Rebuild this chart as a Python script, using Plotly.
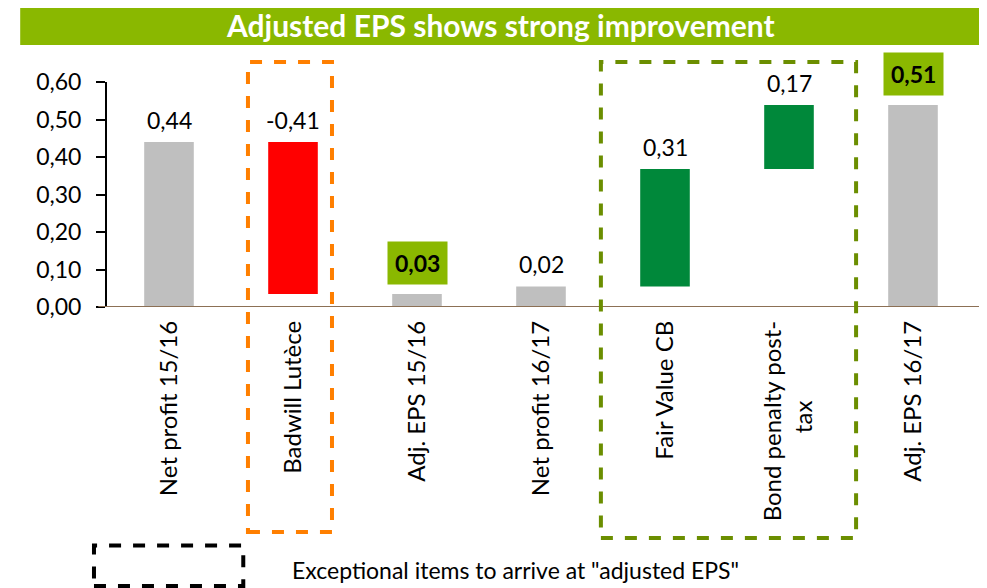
import plotly.graph_objects as go

NBSP = "\u00a0"
categories = ["Net profit 15/16", "Badwill Lutèce", "Adj. EPS 15/16", "Net profit 16/17",
              "Fair Value CB", "Bond penalty post-<br>tax" + NBSP * 13, "Adj. EPS 16/17"]
measures = ["absolute", "relative", "total", "absolute", "relative", "relative", "total"]
values = [0.44, -0.405, 0, 0.055, 0.313, 0.171, 0]
labels = ["0,44", "-0,41", "0,03", "0,02", "0,31", "0,17", "0,51"]
highlight = [False, False, True, False, False, False, True]
y_ticks = [0.0, 0.1, 0.2, 0.3, 0.4, 0.5, 0.6]

FONT = "Lato"
GREEN_TITLE = "#8ab800"

# bar tops for the labels
tops = []
level = 0
for m, v in zip(measures, values):
    if m == "absolute":
        level = v
        tops.append(v)
    elif m == "relative":
        start = level
        level += v
        tops.append(max(start, level))
    else:
        tops.append(level)

fig = go.Figure(go.Waterfall(
    x=categories, y=values, measure=measures,
    width=0.4,
    connector=dict(visible=False),
    increasing=dict(marker=dict(color="#00883a")),
    decreasing=dict(marker=dict(color="#ff0000")),
    totals=dict(marker=dict(color="#bfbfbf")),
    hoverinfo="skip",
))

for cat, top, lab, hl in zip(categories, tops, labels, highlight):
    if hl:
        fig.add_annotation(x=cat, y=top, text=f"<b>{lab}</b>", showarrow=False,
                           yanchor="bottom", yshift=9, bgcolor=GREEN_TITLE, borderpad=7,
                           font=dict(family=FONT, size=23, color="black"))
    else:
        fig.add_annotation(x=cat, y=top, text=lab, showarrow=False,
                           yanchor="bottom", yshift=6,
                           font=dict(family=FONT, size=23, color="black"))

# title bar
fig.add_shape(type="rect", xref="paper", yref="paper", x0=-0.1, x1=1.0058, y0=1.164, y1=1.342,
              fillcolor=GREEN_TITLE, line=dict(width=0), layer="below")
fig.add_shape(type="line", xref="paper", yref="paper", x0=1.008, x1=1.008, y0=1.164, y1=1.36,
              line=dict(color="black", width=2))
fig.add_annotation(xref="paper", yref="paper", x=0.453, y=1.253, xanchor="center", yanchor="middle",
                   showarrow=False, text="<b>Adjusted EPS shows strong improvement</b>",
                   font=dict(family=FONT, size=30, color="white"))

# horizontal baseline
fig.add_shape(type="line", xref="paper", yref="y", x0=-0.01, x1=1.02, y0=0, y1=0,
              line=dict(color="#8c7055", width=2))

# dashed boxes
fig.add_shape(type="rect", xref="paper", yref="paper", x0=0.1624, x1=0.2592, y0=-1.0, y1=1.089,
              line=dict(color="#ff7f00", width=4, dash="dash"))
fig.add_shape(type="rect", xref="paper", yref="paper", x0=0.569, x1=0.863, y0=-1.027, y1=1.089,
              line=dict(color="#6b8e00", width=4, dash="dash"))
fig.add_shape(type="rect", xref="paper", yref="paper", x0=-0.015, x1=0.157, y0=-1.24, y1=-1.06,
              line=dict(color="black", width=4, dash="dash"))
fig.add_annotation(xref="paper", yref="paper", x=0.211, y=-1.17, xanchor="left", yanchor="middle",
                   showarrow=False, text='Exceptional items to arrive at "adjusted EPS"',
                   font=dict(family=FONT, size=23, color="black"))

fig.update_layout(
    width=979, height=580,
    margin=dict(l=99, r=12, t=74, b=281),
    paper_bgcolor="white", plot_bgcolor="white",
    separators=", ",
    showlegend=False,
    font=dict(family=FONT, size=23, color="black"),
)
fig.update_yaxes(range=[0, 0.6], tickvals=y_ticks, tickformat=".2f",
                 showgrid=False, zeroline=False,
                 showline=True, linecolor="black", linewidth=2,
                 ticks="outside", ticklen=9, tickcolor="black", tickwidth=2,
                 ticklabelstandoff=10,
                 tickfont=dict(family=FONT, size=23))
fig.update_xaxes(tickangle=-90, showgrid=False, showline=False,
                 ticklabelstandoff=8,
                 tickfont=dict(family=FONT, size=24))

fig.write_html("out.html")
